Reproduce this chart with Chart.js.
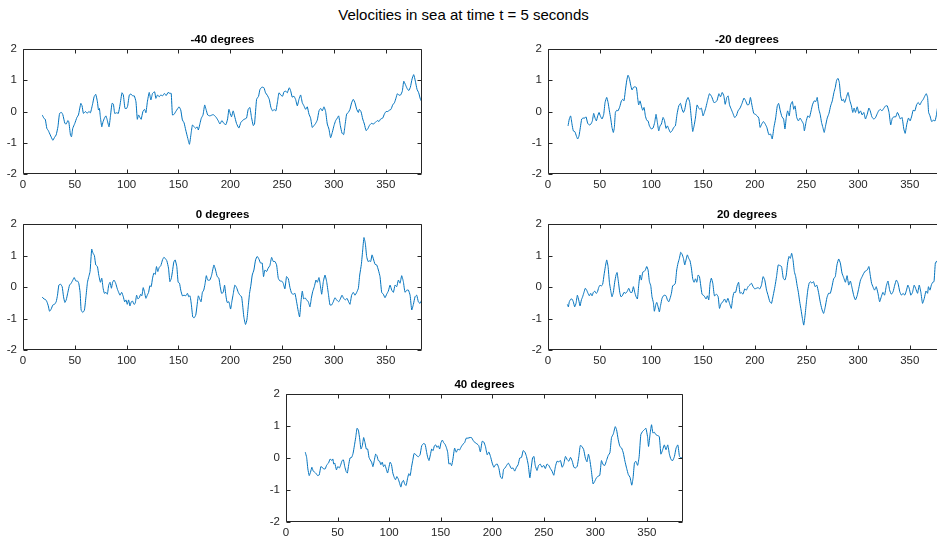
<!DOCTYPE html>
<html>
<head>
<meta charset="utf-8">
<script src="https://cdn.jsdelivr.net/npm/chart.js@4.4.1/dist/chart.umd.min.js"></script>
<style>
  html, body { margin: 0; padding: 0; background: #fff; width: 937px; height: 540px; overflow: hidden; position: relative; }
  #title { position: absolute; left: 0; width: 927px; top: 6px; text-align: center;
           font: 15px "Liberation Sans", Arial, Helvetica, sans-serif; color: #000; white-space: nowrap; }
  canvas { position: absolute; }
</style>
</head>
<body>
<div id="title">Velocities in sea at time t = 5 seconds</div>
<canvas id="c0"></canvas>
<canvas id="c1"></canvas>
<canvas id="c2"></canvas>
<canvas id="c3"></canvas>
<canvas id="c4"></canvas>
<script>
// Subplot titles and axis ticks
const panelTitles = ['-40 degrees', '-20 degrees', '0 degrees', '20 degrees', '40 degrees'];
const xTicks = [0, 50, 100, 150, 200, 250, 300, 350];
const yTicks = [-2, -1, 0, 1, 2];
const xRange = [0, 385];
const yRange = [-2, 2];

// Velocity samples: [position, velocity]
const velM40 = [[18.6,-0.11],[20.2,-0.22],[21.5,-0.25],[23,-0.54],[24.4,-0.61],[26.3,-0.75],[28.8,-0.92],[30.4,-0.83],[32,-0.75],[33.7,-0.49],[35.3,-0.06],[37.2,-0.03],[38.5,-0.11],[40.4,-0.38],[41.7,-0.4],[43.3,-0.29],[44.2,-0.33],[45.8,-0.75],[46.8,-0.81],[48,-0.54],[50,-0.38],[52,-0.19],[53.5,-0.11],[55.8,0.26],[57,0.18],[58.3,-0.06],[60.3,0],[61.9,-0.06],[63.5,0],[65.1,-0.04],[67.3,0.26],[68.6,0.47],[70.2,0.55],[71.8,0.31],[72.8,0.05],[73.7,0.1],[74.7,-0.19],[76,-0.49],[77.2,-0.33],[78.5,-0.22],[80,-0.14],[81.1,-0.25],[83,-0.49],[84.3,-0.17],[85.9,0.26],[87.2,0.24],[88.5,-0.06],[90.4,-0.04],[92,-0.06],[93.6,0.21],[95.5,0.6],[96.8,0.53],[98.4,0.1],[100,0.1],[101,0.18],[102.6,0.53],[104.2,0.56],[105.8,0.5],[107.4,0.5],[109,0.31],[110.3,-0.25],[111.5,-0.11],[112.8,-0.19],[114,-0.25],[115.7,0],[117.3,0.07],[118.6,-0.04],[120,0.31],[121.8,0.61],[123.4,0.37],[125,0.58],[127,0.63],[128.2,0.42],[129.8,0.53],[131.4,0.47],[133,0.53],[134.6,0.5],[136.5,0.58],[138.1,0.51],[140,0.61],[141.7,0.58],[143,0.58],[144.2,-0.11],[145.8,-0.09],[147.4,0],[149,0.08],[150.6,0.15],[152.2,0.05],[153.8,-0.27],[155.4,-0.36],[157,-0.59],[159,-0.86],[160.6,-1.05],[162.2,-0.7],[163.5,-0.43],[165.1,-0.49],[166.7,-0.54],[168,-0.49],[169.2,-0.59],[170.8,-0.38],[172,-0.22],[173.7,-0.11],[175.3,0.21],[176.6,0.07],[178.2,-0.11],[180.3,-0.14],[183.5,-0.1],[186,-0.17],[188.3,-0.29],[190,-0.4],[191.9,-0.29],[193.8,-0.38],[195.8,-0.42],[197.4,-0.24],[198.7,0.07],[199.9,-0.06],[201.2,-0.17],[202.8,0.02],[204.1,-0.14],[206,-0.38],[208.3,-0.53],[210.2,-0.35],[212.5,-0.27],[214,-0.24],[215.7,-0.21],[217.3,0.07],[218.9,0.13],[220.5,-0.19],[222.2,-0.45],[223.4,-0.4],[225.4,0.39],[227.3,0.49],[228.6,0.7],[230.5,0.78],[232.5,0.76],[234,0.6],[235.7,0.52],[237.6,0.39],[239.2,0.13],[240.8,0.02],[242.4,0.06],[244,0.02],[245.7,0.34],[247,0.6],[248.9,0.52],[250.5,0.49],[251.8,0.63],[253.7,0.65],[255,0.6],[256.9,0.76],[258.2,0.67],[259.8,0.46],[261.4,0.49],[263,0.39],[264.7,0.18],[266.3,0.39],[267.9,0.53],[269.5,0.28],[271.1,0.18],[272.7,0.07],[274.3,0.15],[275.9,-0.08],[277.5,-0.21],[279.1,-0.51],[280.8,-0.45],[282.4,-0.38],[284,-0.27],[285.6,0.02],[287.2,0.1],[288.8,0.02],[290.4,0.15],[292,0],[293.6,-0.4],[295.2,-0.56],[296.8,-0.84],[298.5,-0.66],[300.1,-0.45],[301.7,-0.29],[303.3,-0.21],[304.6,-0.14],[306.2,-0.45],[307.8,-0.69],[309.4,-0.74],[310.7,-0.45],[312.3,-0.08],[313.9,-0.03],[315.5,0.07],[317.1,0.28],[318.7,0.39],[320.3,0.28],[322,0.07],[323.6,-0.03],[324.5,0.07],[326.2,-0.01],[327.8,-0.24],[329.4,-0.4],[331,-0.61],[332.6,-0.56],[334.2,-0.45],[336.1,-0.38],[338,-0.4],[340,-0.35],[341.9,-0.29],[343.5,-0.32],[345.1,-0.24],[347.1,-0.21],[348.7,-0.08],[350.3,0],[351.9,0],[353.5,0.04],[355.1,0.07],[356.7,0.21],[358.4,0.28],[360,0.44],[361.2,0.57],[362.8,0.52],[364.4,0.53],[366,0.65],[367.4,0.97],[369,0.86],[370.6,0.74],[372.2,0.67],[373.8,0.78],[375.4,1.04],[377,1.18],[378.6,0.97],[380.2,0.71],[381.8,0.6],[383.5,0.39],[385,0.3]];

const velM20 = [[19.4,-0.46],[20.6,-0.24],[21.9,-0.14],[23.2,-0.4],[24.5,-0.62],[26.1,-0.65],[27.4,-0.78],[28.7,-0.88],[30,-0.78],[31.3,-0.51],[32.6,-0.24],[33.9,-0.21],[35.5,-0.21],[36.8,-0.17],[38.4,-0.38],[40,-0.43],[41.6,-0.4],[42.9,-0.3],[44.2,-0.06],[45.5,-0.21],[46.8,-0.3],[48.1,-0.14],[49.4,-0.03],[50.6,-0.14],[52.3,-0.24],[53.9,-0.09],[55.2,0.29],[56.8,0.45],[58.1,0.29],[59.4,0.02],[60.6,-0.21],[61.9,-0.51],[63.2,-0.67],[64.2,-0.51],[65.2,-0.03],[66.5,0.04],[67.7,0.02],[69.4,0.15],[71,0.34],[72.3,0.39],[73.5,0.34],[74.8,0.66],[76.1,0.98],[77.4,1.16],[78.7,1.06],[80,0.84],[81.3,0.69],[82.6,0.77],[83.9,0.79],[85.5,0.77],[86.5,0.5],[87.7,0.21],[89,0.34],[90.3,0.18],[91.6,0.04],[92.9,0.13],[94.2,-0.14],[95.5,-0.28],[96.8,-0.3],[98.1,-0.46],[100,-0.56],[101.6,-0.53],[103.2,-0.35],[104.5,-0.09],[105.8,-0.35],[107.1,-0.62],[108.4,-0.46],[109.7,-0.4],[111.3,-0.19],[112.6,-0.28],[114.2,-0.54],[115.5,-0.46],[116.8,-0.56],[118.4,-0.67],[120,-0.62],[121.6,-0.51],[123.2,-0.46],[124.8,-0.09],[126.5,0.18],[128.1,0.26],[129.7,0.07],[131,-0.03],[132.3,0.07],[133.9,0.34],[135.5,0.45],[137.1,0.29],[138.7,-0.24],[140,-0.64],[141.3,-0.46],[142.6,-0.21],[144.2,0.21],[145.5,0.13],[146.8,0.07],[148.4,0.11],[150,-0.14],[152.5,0.1],[153.9,0.29],[156.2,0.57],[158.4,0.47],[160.4,0.29],[161.8,0.29],[163.6,0.36],[165.3,0.57],[166.9,0.47],[168.5,0.61],[170.1,0.5],[171.4,0.23],[173,0.45],[174.3,0.5],[175.6,0.21],[177.3,0.07],[178.9,-0.06],[180.5,-0.19],[182.2,-0.14],[183.8,0.02],[185.8,0.11],[187.7,0.26],[189.6,0.43],[191.2,0.34],[192.9,0.21],[194.5,0.23],[195.8,0.45],[197.4,0.18],[199,-0.06],[200.6,-0.09],[202.3,-0.14],[203.9,-0.21],[205.2,-0.51],[206.8,-0.4],[208.4,-0.32],[210.1,-0.4],[211.7,-0.51],[213.6,-0.74],[215.3,-0.72],[216.9,-0.88],[218.5,-0.51],[220.1,-0.24],[221.8,0.18],[223.1,0.26],[224.7,0.02],[226.3,-0.17],[227.9,-0.24],[229.2,-0.56],[230.5,-0.19],[231.8,0.02],[233.4,-0.14],[234.7,0.21],[236.4,0.32],[237.7,0.07],[239,0.18],[240.6,-0.19],[242.2,-0.3],[243.8,-0.21],[245.5,-0.3],[247.1,-0.4],[248,-0.62],[249.7,-0.32],[251.3,-0.14],[252.9,-0.19],[254.5,0.02],[255.8,0.21],[257.5,0.34],[259.1,0.32],[260.4,0.45],[262,0.07],[263.3,-0.09],[264.6,-0.35],[265.9,-0.51],[267.2,-0.67],[268.5,-0.46],[270.1,-0.21],[271.8,-0.06],[273.4,0.18],[275,0.34],[276.6,0.61],[277.9,0.77],[279.2,1.0],[280.5,1.06],[281.8,0.93],[283.1,0.5],[284.4,0.34],[285.7,0.39],[287,0.29],[288.6,0.45],[290.3,0.61],[291.9,0.36],[293.5,0.18],[294.8,-0.03],[296.1,0.11],[297.4,-0.03],[299.1,0.15],[300.7,-0.06],[302.3,0.02],[303.9,-0.11],[305.5,-0.03],[307.1,-0.24],[308.8,-0.09],[310.4,0.11],[311.7,0.02],[313.3,-0.17],[315,-0.24],[316.6,-0.21],[318.2,-0.09],[319.8,0.02],[321.4,0.07],[323,0.02],[325,0.11],[326.6,0.18],[328.2,0.18],[329.9,-0.03],[331.5,-0.43],[333.1,-0.21],[334.7,-0.17],[336.4,-0.17],[338,-0.03],[339.6,-0.14],[340.9,-0.24],[342.5,-0.19],[344.2,-0.56],[345.5,-0.7],[347.1,-0.4],[348.7,-0.21],[350.3,-0.3],[351.9,-0.14],[353.2,0.04],[354.9,0.02],[356.5,0.21],[358.1,0.29],[359.7,0.21],[361.4,0.32],[363,0.39],[364.6,0.5],[365.9,0.57],[367.2,0.45],[368.2,-0.03],[369.5,-0.14],[371.1,-0.32],[372.8,-0.28],[374.4,-0.3],[375.8,-0.1],[377,0.15],[379,0.2],[381,0.05],[383,-0.1],[385,-0.05]];

const vel0 = [[18.6,-0.32],[20.2,-0.38],[21.8,-0.4],[23.1,-0.47],[24.4,-0.6],[25.6,-0.77],[27.2,-0.7],[28.8,-0.57],[30.4,-0.55],[32,-0.47],[33.3,-0.26],[34.6,0.06],[36.2,0.09],[37.8,0.01],[39.1,-0.31],[40.4,-0.49],[41.7,-0.41],[43.3,-0.17],[44.9,0.06],[46.5,0.12],[48.1,0.22],[49.4,0.3],[51,0.19],[52.6,0.19],[53.8,0.12],[55.1,-0.17],[56.1,-0.73],[57.7,-0.81],[59.3,-0.73],[60.9,-0.26],[62.2,0.15],[63.5,0.33],[64.7,0.49],[66.3,1.2],[67.6,1.07],[68.9,1.0],[70.2,0.7],[71.8,0.65],[73.1,0.38],[74.7,0.15],[76,0.28],[77.2,-0.02],[78.5,-0.2],[80.1,-0.17],[81.4,-0.23],[82.7,0.06],[84,0.15],[85.3,-0.04],[86.5,0.15],[87.8,0.22],[89.4,0.12],[91,-0.06],[92.3,-0.17],[93.6,-0.26],[95.2,-0.17],[96.8,-0.31],[98.1,-0.47],[99.4,-0.41],[100.6,-0.55],[101.9,-0.41],[103.2,-0.6],[104.5,-0.47],[105.8,-0.45],[107.1,-0.55],[108.3,-0.52],[109.6,-0.26],[110.9,-0.38],[112.2,-0.34],[113.5,-0.23],[114.7,-0.28],[116,-0.02],[117.3,-0.17],[118.6,-0.36],[119.9,-0.26],[121.2,-0.17],[122.4,0.04],[123.7,0.01],[125,0.28],[126.3,0.44],[127.6,0.4],[128.8,0.65],[130.1,0.49],[131.4,0.62],[133,0.68],[134.6,0.86],[135.9,0.94],[137.2,0.91],[138.8,0.83],[140.4,0.6],[141.7,0.17],[143,0.26],[144.2,0.49],[145.5,0.79],[146.8,0.86],[148.4,0.65],[149.7,0.15],[151,0.12],[152.2,-0.1],[153.8,-0.28],[155.4,-0.26],[157,-0.28],[158.7,-0.2],[159.9,-0.31],[161.2,-0.28],[162.5,-0.57],[163.8,-0.95],[165.1,-0.98],[166.7,-0.89],[168,-0.57],[169.2,-0.28],[170.5,-0.38],[171.8,-0.47],[173.1,-0.17],[174.4,-0.1],[175.6,0.09],[176.9,0.36],[178.2,0.22],[180.3,0.22],[181.9,0.36],[184.2,0.7],[185.8,0.54],[187.4,0.33],[189,0.28],[190.3,0.01],[191.6,-0.2],[193.2,-0.17],[194.5,0.06],[195.8,-0.28],[197,-0.49],[198.7,-0.47],[200.3,-0.7],[201.5,-0.47],[202.8,-0.23],[204.4,0.06],[206.1,-0.02],[207.7,-0.17],[209.3,-0.26],[210.9,-0.31],[211.9,-0.57],[213.1,-0.95],[214.7,-1.19],[216,-1.05],[217.3,-0.63],[218.6,-0.2],[219.9,0.06],[221.2,0.38],[222.8,0.54],[224.4,0.86],[226,0.97],[227.6,0.89],[229.2,0.76],[230.8,0.76],[232.1,0.33],[233.4,0.54],[235,0.49],[236.6,0.6],[238.2,0.68],[239.9,0.94],[241.5,0.81],[243.1,0.81],[244.7,0.7],[246.3,0.28],[247.9,0.19],[249.5,0.19],[251.1,0.12],[252.7,-0.06],[254.3,0.33],[256,0.26],[257.6,-0.02],[259.2,-0.2],[260.8,-0.23],[262.4,-0.2],[264,-0.47],[265.6,-0.77],[266.9,-0.95],[268.2,-0.47],[269.5,-0.13],[270.8,-0.38],[272.1,-0.34],[273.7,-0.41],[275.3,-0.47],[276.9,-0.63],[278.2,-0.36],[279.5,-0.15],[281.1,0.01],[282.7,0.22],[284,0.15],[285.6,0.3],[286.9,0.06],[288.2,-0.23],[289.8,0.17],[291.4,0.38],[293,0.17],[294.6,-0.2],[296.2,-0.57],[297.8,-0.57],[299.4,-0.47],[301,-0.34],[302.6,-0.41],[304.6,-0.47],[306.2,-0.38],[307.8,-0.26],[309.4,-0.36],[311,-0.41],[312.6,-0.36],[314.2,-0.47],[315.5,-0.55],[317.1,-0.26],[318.7,-0.17],[320.3,-0.26],[322,-0.17],[323.6,-0.04],[324.9,0.38],[326.5,0.72],[327.8,1.18],[329,1.57],[330.3,1.39],[331.6,0.97],[332.9,0.81],[334.2,0.83],[335.5,0.81],[336.8,1.02],[338.1,0.89],[339.7,0.72],[341.3,0.7],[342.9,0.54],[344.5,0.33],[346.1,-0.17],[347.7,-0.23],[349.3,-0.34],[350.9,-0.23],[352.5,-0.13],[354.2,0.06],[355.8,-0.1],[357.4,-0.17],[359,0.06],[360.6,0.01],[362.2,0.22],[363.8,0.12],[365.4,0.36],[367,0.17],[368.6,-0.17],[370.3,-0.1],[371.9,-0.1],[373.5,-0.26],[375.1,-0.73],[376.7,-0.55],[378.3,-0.31],[379.9,-0.26],[381.5,-0.47],[383.1,-0.52],[384.7,-0.41]];

const vel20 = [[18.7,-0.55],[19.7,-0.63],[20.6,-0.47],[21.9,-0.39],[23.2,-0.38],[24.5,-0.47],[25.8,-0.63],[27.1,-0.52],[28.4,-0.26],[29.7,-0.41],[31,-0.6],[32.3,-0.41],[33.5,-0.31],[34.8,-0.17],[36.1,-0.04],[37.4,-0.1],[38.7,-0.2],[40,-0.28],[41.3,-0.2],[42.6,-0.28],[43.9,-0.17],[45.2,-0.13],[46.5,-0.2],[47.7,-0.17],[49,-0.02],[50.3,0.06],[51.6,0.03],[52.9,0.09],[54.2,0.38],[55.5,0.65],[56.8,0.86],[58.1,0.65],[59.4,0.15],[60.6,-0.1],[61.9,-0.31],[63.2,-0.17],[64.5,0.15],[65.8,0.38],[66.8,0.46],[68.1,0.17],[69.4,-0.17],[70.6,-0.31],[71.9,-0.28],[73.5,-0.17],[75.2,-0.2],[76.8,-0.13],[78.1,-0.04],[79.7,-0.17],[81.3,-0.17],[82.6,0.01],[83.9,-0.17],[85.2,-0.31],[86.5,-0.38],[87.7,0.04],[89,0.38],[90.3,0.22],[91.6,0.47],[92.9,0.49],[94.2,0.54],[95.5,0.65],[96.8,0.54],[98.1,0.17],[99.4,0.04],[100.6,-0.31],[101.9,-0.49],[102.9,-0.77],[104.2,-0.57],[105.2,-0.49],[106.5,-0.63],[107.7,-0.79],[109,-0.57],[110.3,-0.36],[111.6,-0.28],[112.9,-0.26],[114.2,-0.28],[115.5,-0.41],[116.8,-0.47],[118.1,-0.36],[119.4,-0.2],[120.6,0.04],[121.9,0.06],[123.2,0.12],[124.5,0.54],[125.8,0.76],[127.1,0.91],[128.4,1.1],[129.7,1.04],[131,0.91],[132.3,0.7],[133.5,0.86],[134.8,1.02],[136.1,0.91],[137.4,0.83],[138.7,0.6],[140,0.26],[141.3,0.15],[142.6,0.26],[143.9,0.15],[145.2,0.38],[146.5,0.33],[147.7,0.06],[149,-0.23],[150.3,-0.26],[151.6,-0.31],[152.9,-0.38],[154.2,-0.28],[155.5,-0.41],[156.8,0.12],[158,0.28],[159.4,0.12],[161,-0.28],[163,-0.23],[164.6,-0.31],[165.9,-0.68],[167.5,-0.52],[169.2,-0.47],[170.8,-0.38],[172.4,-0.49],[174,-0.36],[175.6,-0.52],[177.3,-0.68],[178.6,-0.36],[179.9,-0.17],[181.5,-0.17],[183.1,0.06],[184.4,0.15],[185.7,-0.2],[187,-0.17],[188.6,-0.23],[190.3,-0.06],[191.9,-0.1],[193.5,0.01],[195.1,0.06],[196.8,0.12],[198.4,0.01],[200,-0.06],[201.6,-0.04],[203.2,-0.02],[204.9,-0.06],[206.5,0.06],[208.1,0.33],[209.7,0.22],[211.4,-0.1],[213,-0.28],[214.6,-0.47],[216.2,-0.52],[217.9,-0.26],[219.5,0.01],[221.1,0.33],[222.7,0.7],[224.4,0.68],[225.9,0.65],[227.6,0.28],[229.2,0.22],[230.5,0.38],[231.8,0.76],[233.1,0.97],[234.4,0.91],[235.7,1.07],[237,0.86],[238.3,0.49],[239.6,0.33],[240.9,0.06],[242.2,-0.17],[243.5,-0.47],[244.8,-0.73],[246.1,-1.0],[247.4,-1.21],[248.7,-0.89],[250,-0.47],[251.3,-0.1],[252.6,0.12],[253.9,0.17],[255.2,0.12],[256.8,0.17],[258.4,0.01],[260,0.06],[261.7,-0.17],[263.3,-0.47],[264.9,-0.7],[266.6,-0.84],[268.2,-0.63],[269.8,-0.34],[271.4,-0.2],[273.1,-0.2],[274.7,0.01],[276.3,0.26],[277.9,0.33],[279.5,0.7],[281.2,0.89],[282.8,0.76],[284.4,0.44],[286,0.3],[287.7,0.15],[289.3,0.36],[290.9,0.06],[292.5,0.19],[294.2,-0.04],[295.8,-0.28],[297.4,-0.41],[299,-0.28],[300.6,-0.04],[302.3,0.22],[303.9,0.33],[305.5,0.44],[307.1,0.51],[308.8,0.54],[310.4,0.65],[311.7,0.38],[313,0.12],[314.3,0.01],[315.9,-0.1],[317.5,0.01],[319.2,-0.2],[320.8,-0.47],[322.4,-0.31],[324,-0.17],[325.6,-0.26],[327.3,0.04],[328.9,0.19],[330.5,-0.1],[332.1,-0.23],[333.8,-0.15],[335.4,0.06],[337,0.22],[338.6,0.12],[340.3,-0.15],[341.9,-0.26],[343.5,-0.2],[345.1,-0.26],[346.8,-0.1],[348.1,0.06],[349.4,-0.04],[351,-0.26],[352.6,-0.17],[354.2,0.06],[355.8,-0.06],[357.5,-0.2],[359.1,0.06],[360.7,-0.17],[362.3,-0.52],[364,-0.36],[365.6,-0.13],[367.2,-0.2],[368,0.01],[369.5,-0.1],[370.8,0.06],[372.1,0.15],[373.4,0.17],[374.7,0.76],[376,0.82],[377.5,0.65],[379,0.5],[381,0.55],[383,0.35],[385,0.4]];

const vel40 = [[18.7,0.18],[20,0.02],[21.2,-0.34],[22.5,-0.55],[23.8,-0.44],[25.1,-0.29],[26.4,-0.41],[27.7,-0.44],[29.3,-0.49],[30.6,-0.55],[32.2,-0.53],[33.8,-0.27],[35.1,-0.29],[36.4,-0.34],[38,-0.34],[39.6,-0.21],[41.2,-0.16],[42.8,-0.03],[44.4,-0.08],[45.4,-0.03],[46.3,-0.19],[47.3,-0.16],[48.9,-0.37],[50.2,-0.27],[51.8,-0.31],[53.1,-0.21],[54.4,-0.08],[55.7,-0.06],[57,-0.27],[58.3,-0.42],[59.5,-0.47],[60.8,-0.21],[62.1,0],[63.7,0.02],[65,0.14],[66.3,0.38],[67.6,0.64],[68.9,0.93],[70.2,0.87],[71.5,0.59],[72.7,0.28],[74,0.38],[75.3,0.64],[76.6,0.48],[77.9,0.28],[79.2,0.28],[80.5,0.02],[81.7,-0.06],[83,-0.13],[84.3,-0.27],[85.6,-0.08],[86.9,0.12],[88.2,0.07],[89.5,-0.08],[90.8,-0.1],[92,-0.21],[93.3,-0.13],[94.6,-0.27],[95.9,-0.21],[97.2,-0.34],[98.5,-0.47],[99.8,-0.29],[101,-0.13],[102.3,-0.21],[103.6,-0.47],[104.9,-0.6],[106.2,-0.68],[107.5,-0.58],[108.8,-0.65],[110.1,-0.78],[111.4,-0.91],[112.6,-0.75],[113.9,-0.7],[115.2,-0.82],[116.5,-0.86],[117.8,-0.65],[119.1,-0.49],[120.4,-0.55],[121.7,-0.29],[122.9,-0.08],[124.2,0.14],[125.5,0.12],[126.8,0.07],[128.4,0.04],[130,0.1],[131.6,0.38],[133.3,0.45],[134.9,0.43],[136.2,0.21],[137.4,0.02],[138.7,-0.08],[140,0.1],[141.3,0.28],[142.6,0.23],[143.9,0.38],[145.2,0.41],[146.4,0.33],[147.7,0.38],[149,0.28],[150.3,0.48],[151.6,0.56],[152.9,0.48],[154.2,0.43],[155.5,0.33],[156.8,0.18],[158,-0.19],[159.3,-0.16],[160.6,-0.24],[161.9,-0.03],[163.5,0.31],[165.1,0.18],[166.7,0.28],[168.3,0.25],[169.9,0.35],[171.6,0.43],[173.2,0.48],[174.8,0.62],[176.4,0.62],[178.5,0.64],[179.8,0.64],[181.7,0.54],[183.7,0.47],[185.3,0.44],[186.9,0.39],[188.5,0.19],[190.2,0.52],[191.8,0.5],[193.4,0.36],[195.1,0.1],[196.7,0.19],[198.3,0.05],[200,-0.16],[201.6,-0.29],[203.2,-0.21],[204.9,-0.19],[206.5,-0.33],[208.1,-0.6],[209.7,-0.64],[211,-0.36],[212.4,-0.31],[214,-0.23],[215.6,-0.16],[216.9,-0.23],[218.6,-0.33],[220.2,-0.31],[221.8,-0.41],[223.5,-0.29],[225.1,-0.21],[226.7,0],[228.4,0.02],[230,0.23],[231.6,0.19],[233.2,0.05],[234.9,-0.21],[236.5,-0.62],[237.8,-0.31],[239.1,0],[240.4,0.05],[241.7,-0.23],[243.4,-0.39],[245,-0.23],[246.6,-0.19],[248.2,-0.29],[249.9,-0.23],[251.5,-0.33],[253.1,-0.19],[254.8,-0.23],[256.4,-0.33],[258,-0.41],[259.7,-0.54],[261.3,-0.26],[262.9,-0.1],[264.5,-0.12],[266.2,-0.08],[267.8,-0.29],[269.4,-0.19],[271,0.05],[272.7,-0.05],[274.3,-0.1],[275.9,0.02],[277.6,-0.1],[279.2,-0.29],[280.9,-0.31],[282.4,-0.26],[284,0.05],[285.4,0.39],[287,0.36],[288.7,0.26],[290.3,0],[291.9,-0.12],[293.3,0.12],[294.6,-0.05],[296,-0.36],[297.8,-0.81],[299.4,-0.73],[301,-0.62],[302.7,-0.57],[304.3,-0.54],[305.9,-0.08],[307.6,-0.21],[309.2,-0.23],[310.8,-0.08],[312.5,0.08],[314.1,0.16],[315.7,0.64],[317.4,0.75],[319.3,0.98],[320.6,0.88],[322.2,0.57],[323.8,0.36],[325.5,0.31],[327.1,0.16],[328.7,-0.1],[330.4,-0.33],[332,-0.52],[333.6,-0.6],[335.3,-0.85],[336.6,-0.62],[337.9,-0.16],[339.2,-0.1],[341,-0.23],[342.5,0.05],[344.1,0.73],[345.8,0.83],[347.4,0.88],[349,0.93],[350.6,0.67],[351.6,0.36],[353.2,0.78],[354.5,1.04],[355.8,0.78],[357.1,0.81],[358.7,0.73],[360.4,0.7],[362,0.67],[363.6,0.12],[365.3,0.26],[366.9,0.41],[368.5,0.26],[370.2,0.41],[371.8,0.12],[373.4,-0.05],[375,-0.08],[376.7,0.05],[378.3,0.31],[380,0.41],[381.6,0.05],[383.2,0],[384.9,0.05]];

const panelSeries = [velM40, velM20, vel0, vel20, vel40];

// Plot-area rectangles on the page (left, top, right, bottom)
const frames = [
  { l: 23,  t: 49,  r: 422, b: 174 },
  { l: 548, t: 49,  r: 946, b: 174 },
  { l: 23,  t: 224, r: 422, b: 350 },
  { l: 548, t: 224, r: 946, b: 350 },
  { l: 286, t: 394, r: 683, b: 522 }
];

const FONT = "'Liberation Sans', Arial, Helvetica, sans-serif";
const AXIS = '#262626';
const LINE = '#0072BD';
const Y_AXIS_W = 30, X_AXIS_H = 22, TITLE_H = 22, RIGHT_PAD = 8;

// Box around the axes with short inward tick marks on all four sides
const boxTicks = {
  id: 'boxTicks',
  afterDatasetsDraw(chart) {
    const { ctx, chartArea: a, scales: { x, y } } = chart;
    const L = Math.round(a.left) + 0.5, R = Math.round(a.right) - 0.5;
    const T = Math.round(a.top) + 0.5, B = Math.round(a.bottom) - 0.5;
    const len = 4;
    ctx.save();
    ctx.strokeStyle = AXIS;
    ctx.lineWidth = 1;
    ctx.beginPath();
    ctx.rect(L, T, R - L, B - T);
    xTicks.forEach(v => {
      const px = Math.round(x.getPixelForValue(v)) + 0.5;
      ctx.moveTo(px, B); ctx.lineTo(px, B - len);
      ctx.moveTo(px, T); ctx.lineTo(px, T + len);
    });
    yTicks.forEach(v => {
      const py = Math.round(y.getPixelForValue(v)) + 0.5;
      ctx.moveTo(L, py); ctx.lineTo(L + len, py);
      ctx.moveTo(R, py); ctx.lineTo(R - len, py);
    });
    ctx.stroke();
    ctx.restore();
  }
};

panelSeries.forEach((series, i) => {
  const f = frames[i];
  const cv = document.getElementById('c' + i);
  const w = (f.r - f.l) + Y_AXIS_W + RIGHT_PAD;
  const h = (f.b - f.t) + TITLE_H + X_AXIS_H;
  cv.width = w; cv.height = h;
  cv.style.width = w + 'px'; cv.style.height = h + 'px';
  cv.style.left = (f.l - Y_AXIS_W) + 'px';
  cv.style.top = (f.t - TITLE_H) + 'px';

  new Chart(cv, {
    type: 'line',
    data: {
      datasets: [{
        label: panelTitles[i],
        data: series.map(([x, v]) => ({ x: x, y: v })),
        borderColor: LINE,
        borderWidth: 1,
        pointRadius: 0,
        tension: 0.15,
        fill: false
      }]
    },
    options: {
      responsive: false,
      animation: false,
      devicePixelRatio: 1,
      layout: { padding: { left: 0, top: 0, right: RIGHT_PAD, bottom: 0 } },
      plugins: {
        legend: { display: false },
        tooltip: { enabled: false },
        title: {
          display: true,
          text: panelTitles[i],
          fullSize: false,
          color: '#000',
          font: { family: FONT, size: 11.5, weight: 'bold', lineHeight: 1.2 },
          padding: { top: 6.1, bottom: 2.1 }
        }
      },
      scales: {
        x: {
          type: 'linear',
          min: xRange[0], max: xRange[1],
          afterBuildTicks: s => { s.ticks = xTicks.map(v => ({ value: v })); },
          afterFit: s => { s.height = X_AXIS_H; },
          grid: { display: false, drawTicks: false },
          border: { display: false },
          ticks: { padding: 4, color: AXIS, maxRotation: 0, autoSkip: false,
                   font: { family: FONT, size: 11.5 } }
        },
        y: {
          type: 'linear',
          min: yRange[0], max: yRange[1],
          afterBuildTicks: s => { s.ticks = yTicks.map(v => ({ value: v })); },
          afterFit: s => { s.width = Y_AXIS_W; },
          grid: { display: false, drawTicks: false },
          border: { display: false },
          ticks: { padding: 6, color: AXIS, font: { family: FONT, size: 11.5 } }
        }
      }
    },
    plugins: [boxTicks]
  });
});
</script>
</body>
</html>
